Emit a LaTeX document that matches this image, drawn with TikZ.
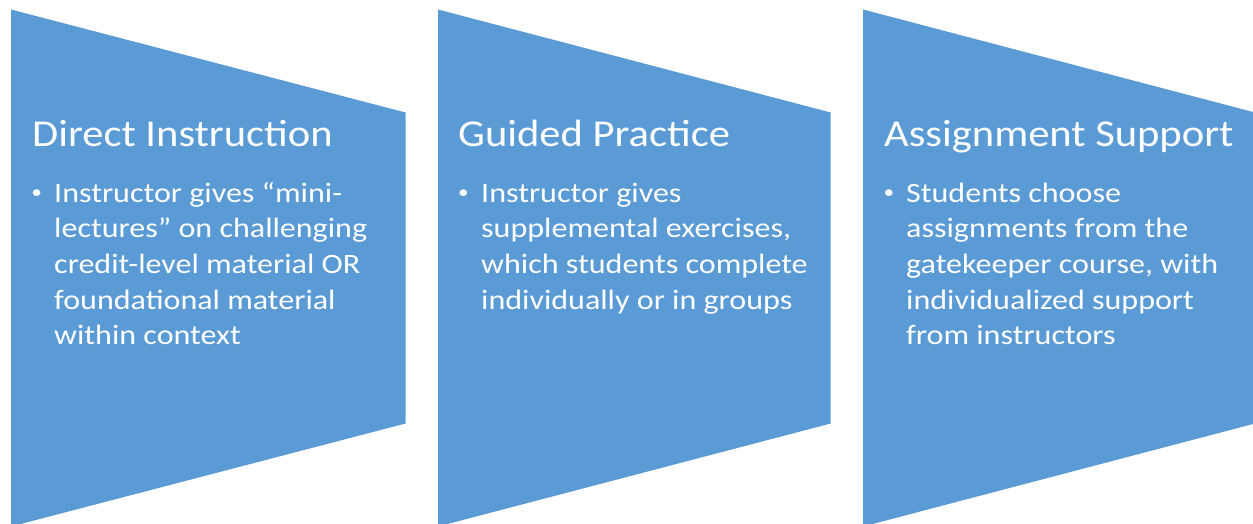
\documentclass[tikz,border=0pt]{standalone}
\usepackage{fontspec}
\setmainfont[FakeStretch=1.12]{Carlito}
\newfontfamily\bodyfont[FakeStretch=1.145]{Carlito}
\definecolor{chevblue}{HTML}{5B9BD5}
\tikzset{
  panel/.style={fill=chevblue},
  ttl/.style={anchor=base west, inner sep=0pt, text=white, font=\fontsize{38}{45}\selectfont},
  bul/.style={anchor=base west, inner sep=0pt, text=white, align=left, font=\bodyfont\fontsize{28}{35.6}\selectfont},
  dot/.style={anchor=base, inner sep=0pt, text=white, font=\fontsize{19}{24}\selectfont}
}
\begin{document}
\begin{tikzpicture}[x=1pt,y=-1pt]
\useasboundingbox (0,0) rectangle (1253,524);
\begin{scope}
\clip (0,0) rectangle (1253,524);
\fill[panel] (11,9.5) -- (405.5,112.5) -- (405.5,423.5) -- (11,526.5) -- cycle;
\fill[panel] (438,9.5) -- (830.7,112.5) -- (830.7,423.5) -- (438,526.5) -- cycle;
\fill[panel] (863,9.5) -- (1255,112.5) -- (1255,423.5) -- (863,526.5) -- cycle;
\end{scope}
% panel 1
\node[ttl] (t1) at (32,146.7) {Direct Instruction};
\node[dot] (d1) at (36.7,198) {•};
\node[bul] (b1) at (54,344.7) {Instructor gives “mini-\\lectures” on challenging\\credit-level material OR\\foundational material\\within context};
% panel 2
\node[ttl] (t2) at (458,146.7) {Guided Practice};
\node[dot] (d2) at (463.5,198) {•};
\node[bul] (b2) at (481,309.1) {Instructor gives\\supplemental exercises,\\which students complete\\individually or in groups};
% panel 3
\node[ttl] (t3) at (884,146.7) {Assignment Support};
\node[dot] (d3) at (889,198) {•};
\node[bul] (b3) at (906,344.7) {Students choose\\assignments from the\\gatekeeper course, with\\individualized support\\from instructors};
\end{tikzpicture}
\end{document}
